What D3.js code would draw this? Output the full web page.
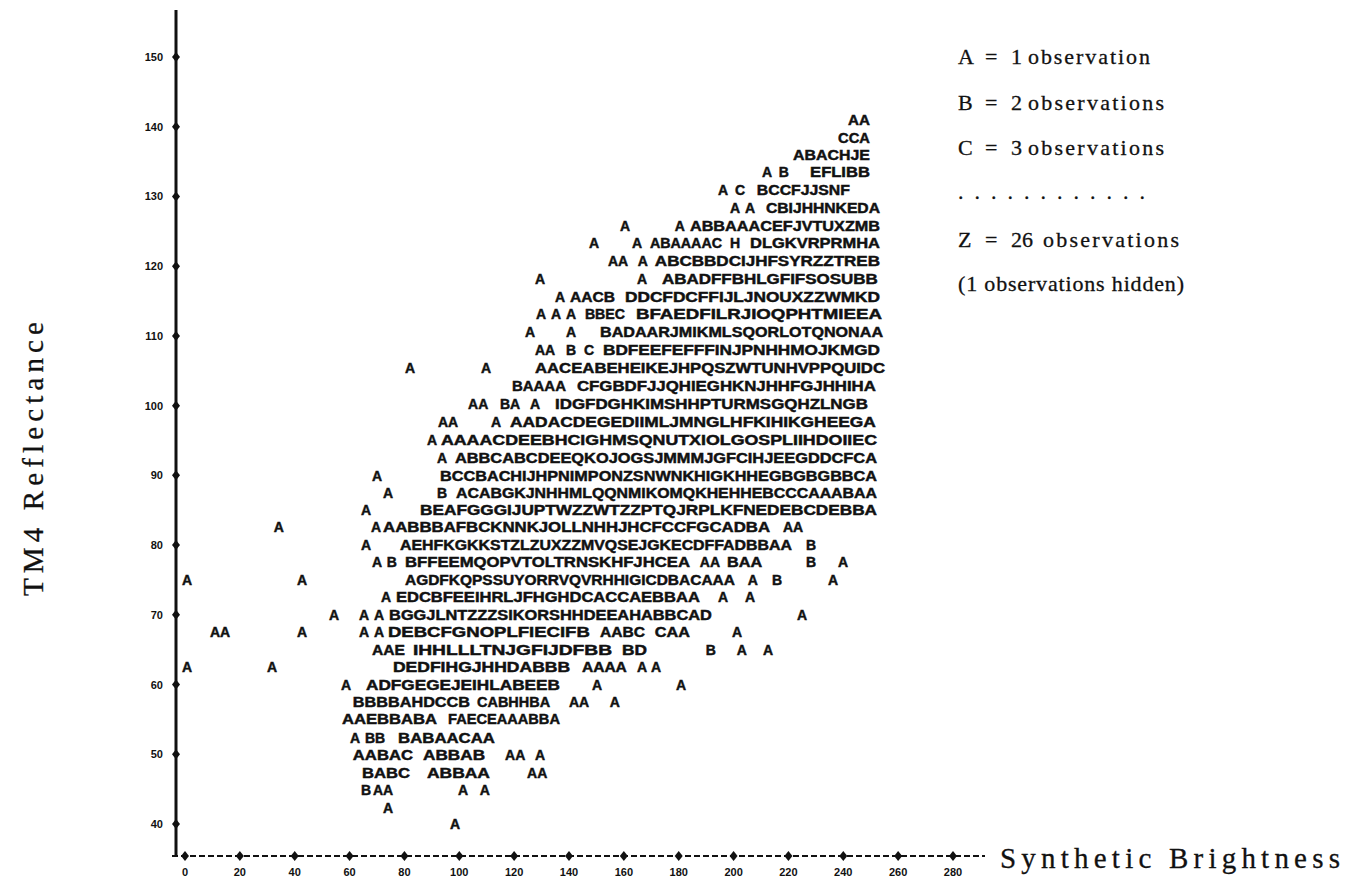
<!DOCTYPE html>
<html><head><meta charset="utf-8">
<script src="https://cdn.jsdelivr.net/npm/d3@7"></script>
<style>body{margin:0;background:#fff}</style>
</head><body><svg id="c" width="1356" height="886"></svg>
<script>
// ---- data ----
const yTicks = [40,50,60,70,80,90,100,110,120,130,140,150];
const xTicks = [0,20,40,60,80,100,120,140,160,180,200,220,240,260,280];
const legendLetters = ["A","B","C","Z"];
const legendCounts = [1,2,3,26];
const legendNote = "(1 observations hidden)";
// y value of each printed row (TM4 reflectance)
const rowValues = [141,138.4,136,133.5,131,128.3,125.8,123.3,120.7,118.2,115.6,113.1,110.6,108,105.4,102.8,100.2,97.7,95.1,92.5,89.9,87.5,85,82.6,80,77.6,75,72.5,70,67.5,65,62.5,60,57.5,55,52.3,49.9,47.3,44.9,42.3,40];
// per row: runs of symbols [x of first symbol, x of last symbol or null, symbols]
const rowRuns = [
 [[241.7,249.7,"AA"]],
 [[238.1,249.7,"CCA"]],
 [[221.7,249.7,"ABACHJE"]],
 [[210.4,null,"A"],[216.5,null,"B"],[227.9,249.7,"EFLIBB"]],
 [[194.3,null,"A"],[200.5,null,"C"],[208.5,242.4,"BCCFJJSNF"]],
 [[198.7,null,"A"],[204.2,null,"A"],[211.8,253.4,"CBIJHHNKEDA"]],
 [[158.6,null,"A"],[178.6,null,"A"],[184.1,253.4,"ABBAAACEFJVTUXZMB"]],
 [[147.3,null,"A"],[163.0,null,"A"],[169.5,195.8,"ABAAAAC"],[198.7,null,"H"],[206.0,253.4,"DLGKVRPRMHA"]],
 [[154.2,null,"AA"],[165.1,null,"A"],[171.3,253.4,"ABCBBDCIJHFSYRZZTREB"]],
 [[127.6,null,"A"],[164.8,null,"A"],[173.9,252.6,"ABADFFBHLGFIFSOSUBB"]],
 [[134.9,null,"A"],[140.4,156.8,"AACB"],[160.4,253.4,"DDCFDCFFIJLJNOUXZZWMKD"]],
 [[128.0,null,"A"],[133.4,null,"A"],[138.9,null,"A"],[145.8,160.4,"BBEC"],[164.4,254.1,"BFAEDFILRJIOQPHTMIEEA"]],
 [[124.0,null,"A"],[138.9,null,"A"],[151.3,254.5,"BADAARJMIKMLSQORLOTQNONAA"]],
 [[127.6,null,"AA"],[138.9,null,"B"],[145.5,null,"C"],[152.4,253.4,"BDFEEFEFFFINJPNHHMOJKMGD"]],
 [[80.2,null,"A"],[107.9,null,"A"],[127.6,255.2,"AACEABEHEIKEJHPQSZWTUNHVPPQUIDC"]],
 [[119.2,138.9,"BAAAA"],[142.9,251.9,"CFGBDFJJQHIEGHKNJHHFGJHHIHA"]],
 [[103.2,null,"AA"],[114.8,null,"BA"],[125.8,null,"A"],[134.9,249.0,"IDGFDGHKIMSHHPTURMSGQHZLNGB"]],
 [[92.2,null,"AA"],[111.6,null,"A"],[118.5,251.9,"AADACDEGEDIIMLJMNGLHFKIHIKGHEEGA"]],
 [[88.2,null,"A"],[93.3,252.3,"AAAACDEEBHCIGHMSQNUTXIOLGOSPLIIHDOIIEC"]],
 [[91.9,null,"A"],[98.4,252.3,"ABBCABCDEEQKOJOGSJMMMJGFCIHJEEGDDCFCA"]],
 [[68.2,null,"A"],[93.0,252.3,"BCCBACHIJHPNIMPONZSNWNKHIGKHHEGBGBGBBCA"]],
 [[72.2,null,"A"],[91.9,null,"B"],[98.8,252.3,"ACABGKJNHHMLQQNMIKOMQKHEHHEBCCCAAABAA"]],
 [[64.2,null,"A"],[85.7,252.3,"BEAFGGGIJUPTWZZWTZZPTQJRPLKFNEDEBCDEBBA"]],
 [[32.4,null,"A"],[67.8,null,"A"],[72.2,213.3,"AABBBAFBCKNNKJOLLNHHJHCFCCFGCADBA"],[218.0,null,"AA"]],
 [[64.2,null,"A"],[78.4,221.3,"AEHFKGKKSTZLZUXZZMVQSEJGKECDFFADBBAA"],[226.4,null,"B"]],
 [[68.2,null,"A"],[73.6,null,"B"],[80.2,184.1,"BFFEEMQOPVTOLTRNSKHFJHCEA"],[187.7,null,"AA"],[197.6,210.4,"BAA"],[226.4,null,"B"],[238.1,null,"A"]],
 [[-1.1,null,"A"],[40.8,null,"A"],[80.2,200.5,"AGDFKQPSSUYORRVQVRHHIGICDBACAAA"],[205.2,null,"A"],[214.0,null,"B"],[234.4,null,"A"]],
 [[71.5,null,"A"],[76.9,187.7,"EDCBFEEIHRLJFHGHDCACCAEBBAA"],[194.3,null,"A"],[204.2,null,"A"]],
 [[52.5,null,"A"],[63.4,null,"A"],[68.9,null,"A"],[74.4,192.1,"BGGJLNTZZZSIKORSHHDEEAHABBCAD"],[223.1,null,"A"]],
 [[9.1,null,"AA"],[40.8,null,"A"],[63.4,null,"A"],[68.9,null,"A"],[74.0,147.6,"DEBCFGNOPLFIECIFB"],[151.3,167.7,"AABC"],[171.3,184.1,"CAA"],[199.4,null,"A"]],
 [[68.2,80.2,"AAE"],[83.1,155.7,"IHHLLLTNJGFIJDFBB"],[159.3,168.4,"BD"],[189.9,null,"B"],[201.2,null,"A"],[210.7,null,"A"]],
 [[-1.1,null,"A"],[29.9,null,"A"],[75.8,140.4,"DEDFIHGJHHDABBB"],[144.7,161.1,"AAAA"],[164.8,null,"A"],[169.9,null,"A"]],
 [[56.9,null,"A"],[66.0,136.7,"ADFGEGEJEIHLABEEB"],[148.4,null,"A"],[179.0,null,"A"]],
 [[61.2,103.9,"BBBBAHDCCB"],[106.5,133.1,"CABHHBA"],[140.0,null,"AA"],[154.9,null,"A"]],
 [[57.2,91.9,"AAEBBABA"],[95.9,136.7,"FAECEAAABBA"]],
 [[60.2,null,"A"],[65.6,null,"BB"],[77.7,113.0,"BABAACAA"]],
 [[61.2,83.1,"AABAC"],[86.8,109.4,"ABBAB"],[116.7,null,"AA"],[127.6,null,"A"]],
 [[64.5,82.0,"BABC"],[88.2,111.2,"ABBAA"],[124.7,null,"AA"]],
 [[64.2,null,"B"],[68.5,null,"AA"],[99.5,null,"A"],[107.5,null,"A"]],
 [[72.2,null,"A"]],
 [[96.6,null,"A"]]
];

// ---- drawing ----
const svg = d3.select("#c");
const x = d3.scaleLinear().domain([0,280]).range([185,953]);
const y = d3.scaleLinear().domain([40,150]).range([824,57]);
const ink = "#111";
const plotFont = "'Liberation Sans', Arial, sans-serif";
const serif = "'Liberation Serif', 'Times New Roman', serif";

// y axis
svg.append("line").attr("x1",176).attr("x2",176).attr("y1",10).attr("y2",856)
  .attr("stroke",ink).attr("stroke-width",3);
const diamond = (cx,cy,w,h)=>`M${cx},${cy-h}L${cx+w},${cy}L${cx},${cy+h}L${cx-w},${cy}Z`;
svg.selectAll(".yd").data(yTicks).join("path")
  .attr("d",d=>diamond(176,y(d),4,5)).attr("fill",ink);
svg.selectAll(".yl").data(yTicks).join("text")
  .attr("x",163).attr("y",d=>y(d)).attr("dy","0.36em")
  .attr("text-anchor","end").attr("font-family",plotFont).attr("font-weight","bold")
  .attr("font-size",11).attr("fill",ink).text(d=>d);

// x axis
const xAxisY = 856;
svg.append("line").attr("x1",172).attr("x2",985).attr("y1",xAxisY).attr("y2",xAxisY)
  .attr("stroke",ink).attr("stroke-width",2.2).attr("stroke-dasharray","6,3");
svg.selectAll(".xd").data(xTicks).join("path")
  .attr("d",d=>diamond(x(d),xAxisY,4,5)).attr("fill",ink);
svg.selectAll(".xl").data(xTicks).join("text")
  .attr("x",d=>x(d)).attr("y",872).attr("dy","0.36em")
  .attr("text-anchor","middle").attr("font-family",plotFont).attr("font-weight","bold")
  .attr("font-size",11).attr("fill",ink).text(d=>d);

// symbol rows
const runs = [];
rowRuns.forEach((r,i)=>r.forEach(s=>runs.push({v:rowValues[i],x0:s[0],x1:s[1],t:s[2]})));
svg.append("g").selectAll("text").data(runs).join("text")
  .attr("x",d=>x(d.x0)).attr("y",d=>y(d.v)).attr("dy","0.36em")
  .attr("font-family",plotFont).attr("font-weight","bold").attr("font-size",14)
  .attr("fill",ink).attr("stroke",ink).attr("stroke-width",0.45)
  .attr("xml:space","preserve")
  .each(function(d){
    if(d.x1!==null){
      d3.select(this).attr("textLength",x(d.x1)-x(d.x0)).attr("lengthAdjust","spacingAndGlyphs");
    }
  })
  .text(d=>d.t);

// axis titles
svg.append("text").attr("transform","translate(43,459) rotate(-90)")
  .attr("text-anchor","middle").attr("font-family",serif).attr("font-size",29)
  .attr("fill",ink).attr("stroke",ink).attr("stroke-width",0.3)
  .attr("textLength",274).attr("lengthAdjust","spacing").text("TM4 Reflectance");
svg.append("text").attr("x",1000).attr("y",868)
  .attr("font-family",serif).attr("font-size",29).attr("fill",ink)
  .attr("stroke",ink).attr("stroke-width",0.3)
  .attr("textLength",340).attr("lengthAdjust","spacing").text("Synthetic Brightness");

// legend
const legY = [64,110,155,247];
const lg = svg.append("g").attr("font-family",serif).attr("font-size",22).attr("fill",ink)
  .attr("stroke",ink).attr("stroke-width",0.3);
legendLetters.forEach((L,i)=>{
  const n = legendCounts[i];
  const word = n===1 ? "observation" : "observations";
  lg.append("text").attr("x",958).attr("y",legY[i]).text(L);
  lg.append("text").attr("x",985).attr("y",legY[i]).text("=");
  lg.append("text").attr("x",1011).attr("y",legY[i]).text(n);
  const wx = n>9 ? 1043 : 1028;
  lg.append("text").attr("x",wx).attr("y",legY[i])
    .attr("textLength", n===1 ? 122 : 136).attr("lengthAdjust","spacing").text(word);
});
lg.append("text").attr("x",958).attr("y",199).attr("textLength",187).attr("lengthAdjust","spacing")
  .text("............");
lg.append("text").attr("x",958).attr("y",291).attr("textLength",226).attr("lengthAdjust","spacing")
  .text(legendNote);
</script></body></html>
